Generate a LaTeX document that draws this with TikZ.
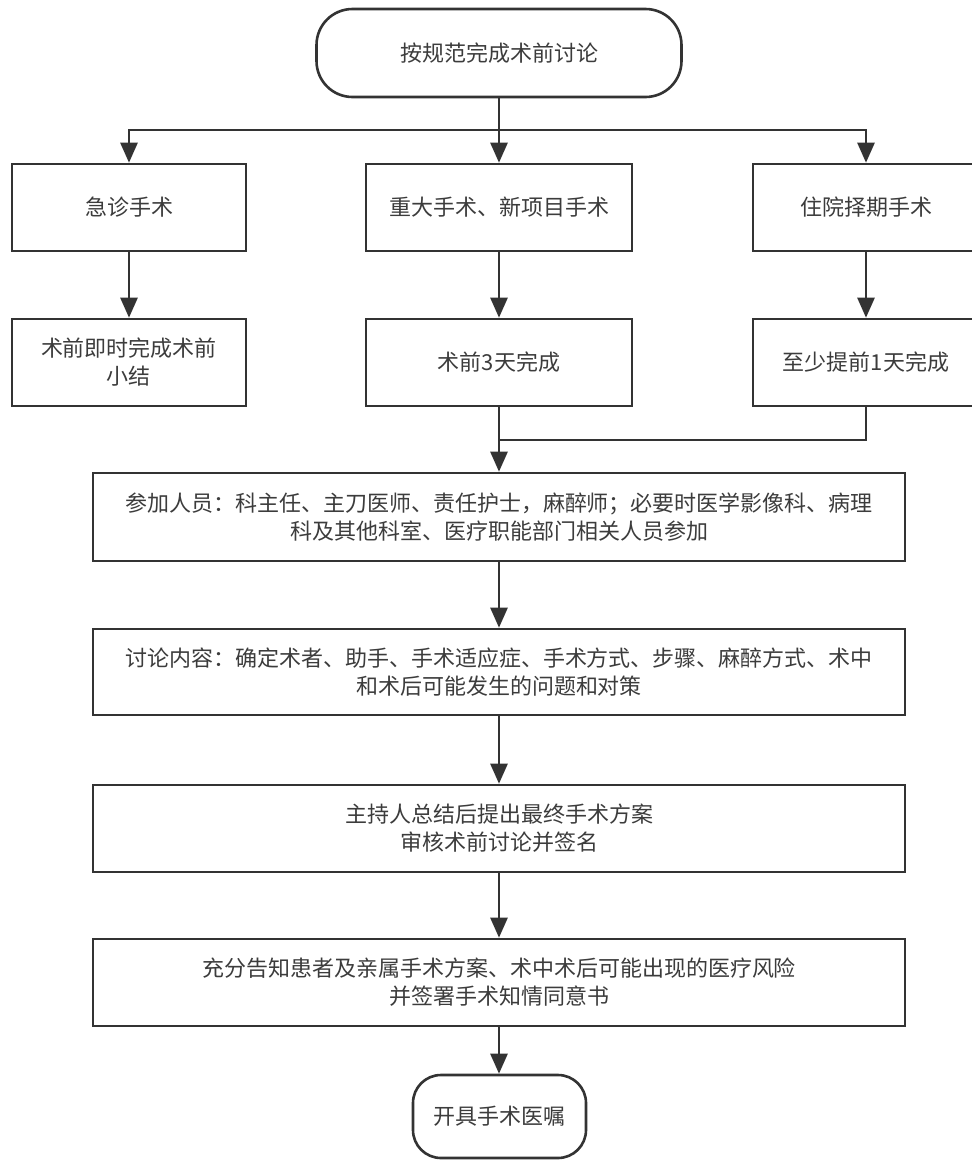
\documentclass[tikz,border=0pt]{standalone}
\usepackage{fontspec}
\setmainfont{Noto Sans CJK SC}
\usetikzlibrary{arrows.meta}
\definecolor{linec}{HTML}{333333}
\definecolor{textc}{HTML}{3C3C3C}

\begin{document}
\begin{tikzpicture}[x=1pt,y=-1pt,
  box/.style={draw=linec, line width=2.6pt, fill=white, inner sep=0pt,
    minimum height=87pt, align=center, text=textc,
    font=\fontsize{22}{28}\selectfont},
  wide/.style={box, minimum width=812pt},
  term/.style={box, rounded corners=#1},
  flow/.style={draw=linec, line width=2.6pt,
    -{Triangle[length=20pt,width=17pt]}},
  link/.style={draw=linec, line width=2.6pt}]

\useasboundingbox (0,0) rectangle (972,1160);
\fill[white] (0,0) rectangle (972,1160);
\clip (0,0) rectangle (972,1160);

% start
\node[term=36pt, minimum width=365pt, minimum height=88pt] (start) at (499,53) {按规范完成术前讨论};

% three kinds of surgery
\node[box, minimum width=234pt] (emerg) at (129,207.5) {急诊手术};
\node[box, minimum width=266pt] (major) at (499,207.5) {重大手术、新项目手术};
\node[box, minimum width=226pt] (elect) at (866,207.5) {住院择期手术};

% time limits
\node[box, minimum width=234pt] (emergT) at (129,362.5) {术前即时完成术前\\小结};
\node[box, minimum width=266pt] (majorT) at (499,362.5) {术前3天完成};
\node[box, minimum width=226pt] (electT) at (866,362.5) {至少提前1天完成};

% discussion steps
\node[wide, minimum height=88pt] (people) at (499,517)
  {参加人员：科主任、主刀医师、责任护士，麻醉师；必要时医学影像科、病理\\科及其他科室、医疗职能部门相关人员参加};
\node[wide, minimum height=86pt] (content) at (499,672)
  {讨论内容：确定术者、助手、手术适应症、手术方式、步骤、麻醉方式、术中\\和术后可能发生的问题和对策};
\node[wide] (summary) at (499,828.5)
  {主持人总结后提出最终手术方案\\审核术前讨论并签名};
\node[wide] (inform) at (499,982.5)
  {充分告知患者及亲属手术方案、术中术后可能出现的医疗风险\\并签署手术知情同意书};

% end
\node[term=28pt, minimum width=173pt, minimum height=83pt] (order) at (499.5,1116.5) {开具手术医嘱};

% connectors
\coordinate (split) at (499,130);
\coordinate (merge) at (499,440);

\draw[link] (start.south) -- (split);
\draw[flow] (split) -- (major.north);
\draw[flow] (split) -| (emerg.north);
\draw[flow] (split) -| (elect.north);

\draw[flow] (emerg) -- (emergT);
\draw[flow] (major) -- (majorT);
\draw[flow] (elect) -- (electT);

\draw[link] (electT.south) |- (merge);
\draw[flow] (majorT.south) -- (people.north);

\draw[flow] (people) -- (content);
\draw[flow] (content) -- (summary);
\draw[flow] (summary) -- (inform);
\draw[flow] (inform.south) -- (inform.south |- order.north);
\end{tikzpicture}
\end{document}
